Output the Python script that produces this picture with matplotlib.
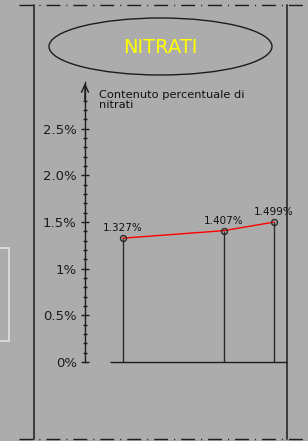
import matplotlib
matplotlib.use('Agg')
import matplotlib.pyplot as plt
from matplotlib.patches import Ellipse, Rectangle
import numpy as np

# ---- data ----
title = "NITRATI"
y_label = "Contenuto percentuale di\nnitrati"
sample_x = [1.0, 3.0, 4.0]
nitrati_pct = [1.327, 1.407, 1.499]
point_labels = ["1.327%", "1.407%", "1.499%"]
major_ticks = [0, 0.5, 1.0, 1.5, 2.0, 2.5]
major_tick_labels = ["0%", "0.5%", "1%", "1.5%", "2.0%", "2.5%"]
minor_ticks = [round(v, 1) for v in np.arange(0.1, 2.85, 0.1)]

W, H = 308, 441
BG = '#acacac'
DARK = '#1c1c1c'

fig = plt.figure(figsize=(W / 100, H / 100), dpi=100, facecolor=BG)

# background layer in pixel coordinates (frame, title box)
bg = fig.add_axes([0, 0, 1, 1])
bg.set_xlim(0, W)
bg.set_ylim(H, 0)
bg.axis('off')
bg.patch.set_alpha(0)

dashdot = (0, (10, 4.3, 0.8, 4.3))
for yy in (5, 439):
    bg.plot([19, W], [yy, yy], color=DARK, lw=1.0, linestyle=dashdot)
for xx in (34, 287):
    bg.plot([xx, xx], [5, 439], color=DARK, lw=1.1)

bg.add_patch(Ellipse((160.5, 46.5), 223, 57, fill=False, ec=DARK, lw=1.0))
bg.text(160.5, 47.5, title, color='#ffff00', fontsize=14, ha='center',
        va='center', family='DejaVu Sans')
bg.add_patch(Rectangle((-2, 248), 11, 93, fill=False, ec='#e2e2e2', lw=1.2))
bg.text(99, 90, y_label, ha='left', va='top', fontsize=8.2, color='#111111',
        linespacing=1.0)

# data axes
x_left, x_right = 0.245, 4.258
ax = fig.add_axes([85 / W, (H - 362) / H, (287 - 85) / W, 280 / H])
ax.patch.set_alpha(0)
ax.set_xlim(x_left, x_right)
ax.set_ylim(0, 3.0)
for s in ('top', 'right', 'bottom'):
    ax.spines[s].set_visible(False)
ax.spines['left'].set_color(DARK)
ax.spines['left'].set_linewidth(1.0)
ax.set_xticks([])
ax.set_yticks(major_ticks)
ax.set_yticklabels(major_tick_labels)
ax.set_yticks(minor_ticks, minor=True)
ax.tick_params(axis='y', which='major', direction='inout', length=6, width=1.0,
               colors=DARK, labelsize=9.5, pad=3)
ax.tick_params(axis='y', which='minor', direction='inout', length=3.2, width=1.0,
               colors=DARK)

ax.annotate('', xy=(x_left, 2.99), xytext=(x_left, 2.8),
            arrowprops=dict(arrowstyle='->,head_length=0.55,head_width=0.25',
                            lw=1.0, color=DARK, shrinkA=0, shrinkB=0),
            annotation_clip=False)

ax.hlines(0, 0.74, x_right, color=DARK, lw=1.0, clip_on=False)
ax.vlines(sample_x, 0, nitrati_pct, color='#2a2a2a', lw=1.0)
ax.plot(sample_x, nitrati_pct, color='#ff0000', lw=1.0, marker='o', mfc='none',
        mec='#2a2a2a', ms=4.3, mew=1.0, clip_on=False)
for x, y, lab in zip(sample_x, nitrati_pct, point_labels):
    ax.annotate(lab, (x, y), xytext=(0, 3.5), textcoords='offset points',
                ha='center', va='bottom', fontsize=7.5, color='#111111')

fig.savefig('out.png', dpi=100, facecolor=BG)
